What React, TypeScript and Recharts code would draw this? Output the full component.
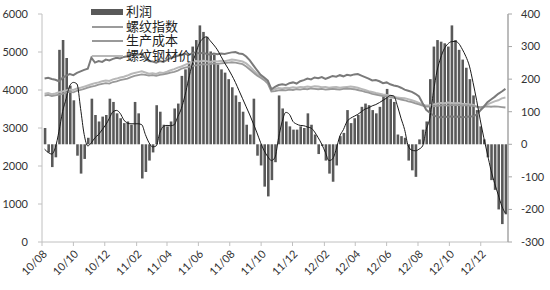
import React from 'react';
import { ComposedChart, Bar, Line, XAxis, YAxis, Legend } from 'recharts';

// Weekly observations starting 2010-08-06; x = days since 2010-08-01
const tickLabels = ['10/08', '10/10', '10/12', '11/02', '11/04', '11/06', '11/08', '11/10', '11/12', '12/02', '12/04', '12/06', '12/08', '12/10', '12/12'];
const tickDays = [0, 61, 122, 184, 243, 304, 365, 426, 487, 549, 609, 670, 731, 792, 853];
const leftTicks = [0, 1000, 2000, 3000, 4000, 5000, 6000];
const rightTicks = [-300, -200, -100, 0, 100, 200, 300, 400];

// 利润 (bars, right axis)
const profit = [
  50, -25, -70, -40, 290, 320, 265, 180, 135, -35,
  -90, -45, 20, 140, 90, 70, 85, 90, 140, 130,
  95, 80, 65, 70, 60, 130, 95, -105, -85, -50,
  -25, 120, 100, 60, 55, 70, 110, 125, 210, 230,
  255, 300, 320, 365, 345, 330, 285, 275, 245, 230,
  220, 200, 175, 150, 130, 100, 60, 30, 140, -35,
  -65, -130, -160, -110, -55, 150, 110, 70, 55, 45,
  45, 55, 50, 95, 60, 30, -30, -5, -50, -90,
  -115, -65, 25, 35, 105, 65, 80, 90, 115, 125,
  120, 105, 95, 115, 150, 170, 140, 130, 30, 25,
  20, -50, -80, -100, 15, 45, 70, 200, 300, 320,
  315, 310, 300, 365, 320, 290, 260, 235, 200, 150,
  105, 55, 15, -40, -110, -140, -200, -245, -215,
];

// smoothed profit (thin black line, right axis)
const profitAvg = [
  -15, -25, -30, -10, 40, 100, 140, 180, 190, 185,
  110, 30, -5, 5, 20, 30, 45, 60, 80, 100,
  104, 95, 75, 65, 63, 63, 63, 60, 30, 5,
  -8, -5, 35, 55, 58, 57, 60, 85, 110, 150,
  200, 245, 280, 310, 325, 330, 318, 305, 290, 270,
  250, 232, 212, 190, 165, 140, 115, 90, 63, 35,
  5, -20, -38, -50, -40, 20, 70, 98, 92, 70,
  62, 58, 57, 53, 50, 38, 20, 0, -25, -50,
  -45, -15, 25, 45, 70, 80, 86, 92, 100, 108,
  112, 118, 122, 128, 135, 142, 150, 148, 118, 80,
  45, -5, -18, -20, -15, -5, 45, 80, 160, 225,
  265, 293, 308, 315, 316, 310, 292, 270, 240, 190,
  135, 75, 20, -30, -80, -120, -155, -190, -212,
];

// 螺纹指数 (left axis)
const rebarIndex = [
  4300, 4320, 4290, 4270, 4230, 4320, 4380, 4420, 4390, 4450,
  4490, 4530, 4560, 4850, 4720, 4760, 4740, 4800, 4780, 4820,
  4850, 4830, 4870, 4890, 4920, 4950, 4930, 4960, 4830, 4760,
  4750, 4720, 4760, 4740, 4790, 4850, 4870, 4900, 4920, 4950,
  4920, 4970, 4990, 4960, 4980, 4950, 4930, 4960, 4940, 4960,
  4950, 4970, 4990, 5000, 4960, 4950, 4880, 4780, 4650, 4520,
  4400, 4330, 4250, 4020, 4080, 4130, 4150, 4130, 4180, 4200,
  4170, 4230, 4260, 4300, 4280, 4330, 4310, 4340, 4290, 4330,
  4370, 4350, 4390, 4360, 4400, 4380, 4410, 4420, 4380, 4340,
  4300, 4250, 4260, 4230, 4180, 4200, 4150, 4120, 4100, 4060,
  4010, 3980, 3950, 3900, 3830, 3650, 3480, 3400, 3330, 3300,
  3280, 3300, 3290, 3310, 3290, 3300, 3280, 3290, 3300, 3310,
  3350, 3460, 3560, 3680, 3750, 3820, 3900, 3960, 4030,
];

// 生产成本 (left axis)
const cost = [
  3850, 3870, 3840, 3860, 3880, 3900, 3930, 3950, 3940, 3980,
  4000, 4030, 4060, 4090, 4110, 4140, 4160, 4180, 4170, 4210,
  4230, 4260, 4280, 4300, 4340, 4370, 4390, 4410, 4400, 4380,
  4390, 4370, 4400, 4410, 4430, 4460, 4480, 4510, 4560, 4590,
  4610, 4630, 4650, 4660, 4680, 4670, 4680, 4700, 4690, 4700,
  4710, 4720, 4730, 4720, 4700, 4680, 4620, 4540, 4460, 4380,
  4320, 4260, 4170, 3960, 3970, 3990, 4000, 3990, 4010, 4000,
  4020, 4010, 4030, 4020, 4040, 4030, 4020, 4030, 4010, 4020,
  4030, 4020, 4010, 4030, 4040, 4030, 4020, 4000, 3980, 3950,
  3930, 3900, 3880, 3860, 3840, 3830, 3810, 3790, 3770, 3750,
  3730, 3700, 3680, 3650, 3620, 3590, 3560, 3560, 3570, 3580,
  3590, 3600, 3590, 3600, 3610, 3600, 3590, 3600, 3590, 3580,
  3560, 3550, 3560, 3570, 3560, 3570, 3560, 3550, 3540,
];

// 螺纹钢材价 (left axis)
const rebarPrice = [
  3900, 3920, 3890, 3910, 3940, 3960, 3990, 4010, 4000, 4040,
  4060, 4090, 4120, 4150, 4180, 4200, 4230, 4250, 4240, 4280,
  4300, 4330, 4350, 4380, 4420, 4450, 4470, 4490, 4460, 4430,
  4440, 4420, 4460, 4450, 4480, 4520, 4550, 4590, 4620, 4660,
  4700, 4730, 4760, 4750, 4770, 4760, 4740, 4760, 4750, 4770,
  4760, 4780, 4800, 4790, 4770, 4750, 4700, 4620, 4520, 4430,
  4350, 4300, 4200, 3990, 4020, 4050, 4040, 4060, 4050, 4070,
  4060, 4080, 4070, 4090, 4080, 4100, 4090, 4070, 4080, 4060,
  4070, 4080, 4060, 4070, 4080, 4090, 4080, 4060, 4030, 4000,
  3970, 3950, 3920, 3900, 3880, 3870, 3850, 3830, 3800, 3790,
  3780, 3760, 3730, 3700, 3660, 3620, 3590, 3600, 3620, 3640,
  3660, 3650, 3670, 3660, 3650, 3660, 3640, 3630, 3620, 3610,
  3560, 3520, 3560, 3620, 3660, 3700, 3730, 3780, 3800,
];

const seriesNames = ['利润', '螺纹指数', '生产成本', '螺纹钢材价'];

const COLORS = {
  bar: '#595959',
  index: '#7a7a7a',
  cost: '#999999',
  price: '#b8b8b8',
  avg: '#1a1a1a',
};

const data = profit.map((p, i) => ({
  day: 5 + 7 * i,
  profit: p,
  avg: profitAvg[i],
  idx: rebarIndex[i],
  cost: cost[i],
  price: rebarPrice[i],
}));

const FONT = "Lato, 'Noto Sans CJK SC', sans-serif";
const LEGEND_FONT = "'Liberation Sans', 'Noto Sans CJK SC', sans-serif";

const XTick = (props: any) => {
  const { x, y, payload } = props;
  const k = tickDays.indexOf(payload.value);
  return (
    <g transform={`translate(${x + 3},${y + 4}) rotate(-45)`}>
      <text x={0} y={0} dy="0.35em" textAnchor="end" fontSize={11} fill="#333" fontFamily={FONT}>
        {tickLabels[k]}
      </text>
    </g>
  );
};

const legendSwatchColors = [COLORS.bar, COLORS.index, COLORS.cost, COLORS.price];

const LegendContent = () => (
  <div style={{ fontFamily: LEGEND_FONT, fontSize: 13, color: '#222' }}>
    {seriesNames.map((name, k) => (
      <div key={name} style={{ display: 'flex', alignItems: 'center', height: 14.5 }}>
        <svg width={32} height={10} style={{ display: 'block' }}>
          {k === 0 ? (
            <rect x={0} y={2} width={32} height={6} fill={legendSwatchColors[k]} />
          ) : (
            <line x1={1} y1={5} x2={32} y2={5} stroke={legendSwatchColors[k]} strokeWidth={k === 1 ? 1.5 : 2} />
          )}
        </svg>
        <span style={{ marginLeft: 3, lineHeight: '14px', whiteSpace: 'nowrap' }}>{name}</span>
      </div>
    ))}
  </div>
);

export default function App() {
  return (
    <div style={{ position: 'absolute', left: 0, top: 0, background: '#fff' }}>
      <ComposedChart width={550} height={290} data={data} margin={{ top: 14, right: 0, bottom: 0, left: 0 }}>
        <XAxis
          dataKey="day"
          type="number"
          domain={[0, 906]}
          ticks={tickDays}
          interval={0}
          allowDataOverflow
          height={48}
          tickSize={4}
          tick={<XTick />}
          axisLine={{ stroke: '#c0c0c0' }}
          tickLine={{ stroke: '#c0c0c0' }}
        />
        <YAxis
          yAxisId="left"
          domain={[0, 6000]}
          ticks={leftTicks}
          width={42}
          tickSize={4}
          tickMargin={10}
          tick={{ fontSize: 11, fill: '#333', fontFamily: FONT }}
          axisLine={{ stroke: '#c0c0c0' }}
          tickLine={{ stroke: '#c0c0c0' }}
        />
        <YAxis
          yAxisId="right"
          orientation="right"
          domain={[-300, 400]}
          ticks={rightTicks}
          width={42}
          tickSize={4}
          tickMargin={9}
          tick={{ fontSize: 11, fill: '#333', fontFamily: FONT }}
          axisLine={{ stroke: '#a6a6a6', strokeWidth: 1.5 }}
          tickLine={{ stroke: '#a6a6a6' }}
        />
        <Legend
          layout="vertical"
          align="center"
          verticalAlign="middle"
          content={<LegendContent />}
          wrapperStyle={{ left: 91, top: 5, width: 140, height: 60 }}
        />
        <Bar yAxisId="right" dataKey="profit" fill={COLORS.bar} barSize={2.6} isAnimationActive={false} />
        <Line yAxisId="left" dataKey="price" stroke={COLORS.price} strokeWidth={2} dot={false} type="linear" isAnimationActive={false} />
        <Line yAxisId="left" dataKey="cost" stroke={COLORS.cost} strokeWidth={1.8} dot={false} type="linear" isAnimationActive={false} />
        <Line yAxisId="left" dataKey="idx" stroke={COLORS.index} strokeWidth={2} dot={false} type="linear" isAnimationActive={false} />
        <Line yAxisId="right" dataKey="avg" stroke={COLORS.avg} strokeWidth={1} dot={false} type="monotone" isAnimationActive={false} />
      </ComposedChart>
    </div>
  );
}
